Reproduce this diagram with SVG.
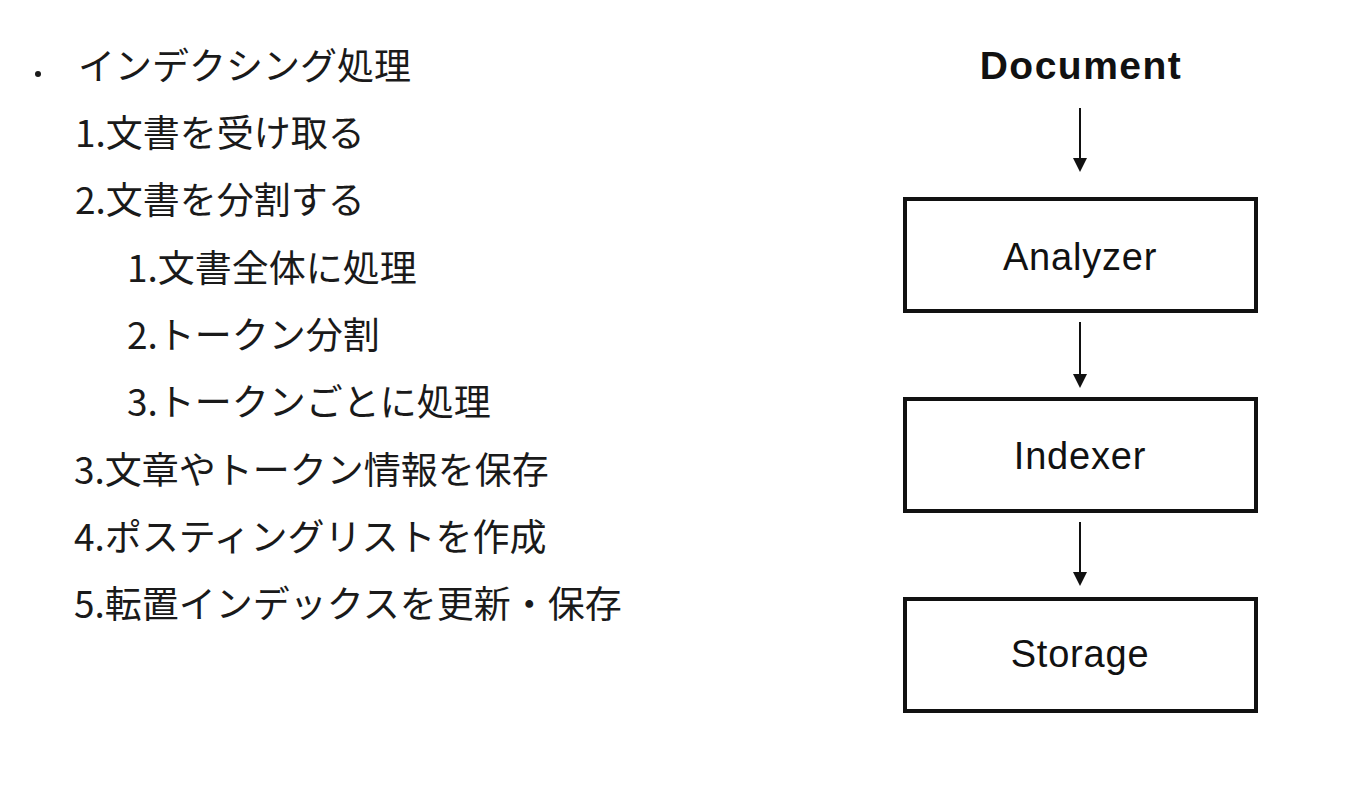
<svg xmlns="http://www.w3.org/2000/svg" width="1350" height="786" viewBox="0 0 1350 786">
<defs>
<style>
.jp{font-family:"Noto Sans CJK JP","Liberation Sans",sans-serif;font-size:37px;fill:#1a1a1a;}
.lbl{font-family:"Liberation Sans","Noto Sans",sans-serif;font-size:38px;letter-spacing:0.8px;fill:#111;text-anchor:middle;}
.doc{font-weight:bold;font-size:39px;letter-spacing:1.5px;}
.box{fill:#fff;stroke:#111;stroke-width:4;}
.edge{stroke:#111;stroke-width:2;fill:none;}
</style>
<marker id="ah" markerWidth="14" markerHeight="16" refX="12" refY="7" orient="auto" markerUnits="userSpaceOnUse" viewBox="0 0 14 14">
<path d="M0,0 L14,7 L0,14 z" fill="#111"/>
</marker>
</defs>
<rect width="1350" height="786" fill="#fff"/>
<g id="list">
<circle cx="38" cy="74" r="3" fill="#1a1a1a"/>
<text class="jp" x="78" y="80">インデクシング処理</text>
<text class="jp" x="75" y="147">1.文書を受け取る</text>
<text class="jp" x="75" y="214">2.文書を分割する</text>
<text class="jp" x="127" y="282">1.文書全体に処理</text>
<text class="jp" x="127" y="349">2.トークン分割</text>
<text class="jp" x="127" y="416">3.トークンごとに処理</text>
<text class="jp" x="74" y="484">3.文章やトークン情報を保存</text>
<text class="jp" x="74" y="551">4.ポスティングリストを作成</text>
<text class="jp" x="74" y="618">5.転置インデックスを更新・保存</text>
</g>
<g id="document">
<text class="lbl doc" x="1081" y="79">Document</text>
</g>
<g id="analyzer">
<rect class="box" x="905" y="199" width="351" height="112"/>
<text class="lbl" x="1080" y="270">Analyzer</text>
</g>
<g id="indexer">
<rect class="box" x="905" y="399" width="351" height="112"/>
<text class="lbl" x="1080" y="469">Indexer</text>
</g>
<g id="storage">
<rect class="box" x="905" y="599" width="351" height="112"/>
<text class="lbl" x="1080" y="667">Storage</text>
</g>
<g id="connectors">
<line class="edge" x1="1080" y1="108" x2="1080" y2="170" marker-end="url(#ah)"/>
<line class="edge" x1="1080" y1="322" x2="1080" y2="386" marker-end="url(#ah)"/>
<line class="edge" x1="1080" y1="522" x2="1080" y2="584" marker-end="url(#ah)"/>
</g>
</svg>
